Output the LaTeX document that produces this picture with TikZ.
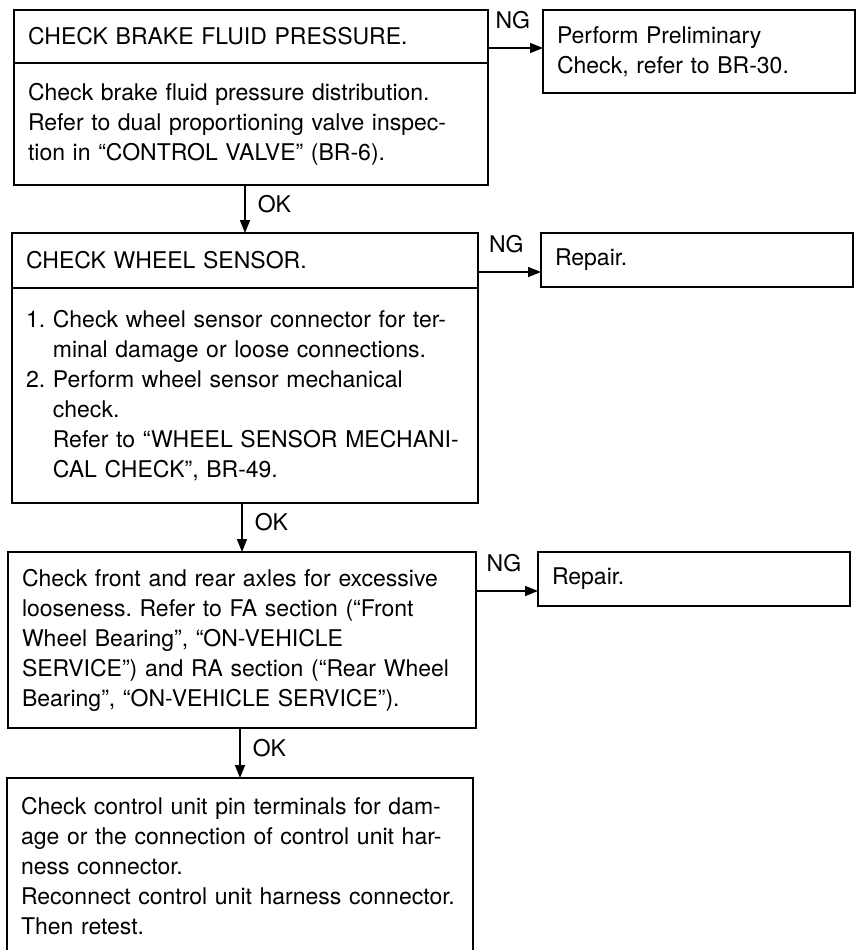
\documentclass[tikz,border=0pt]{standalone}
\usepackage{fontspec}
\setmainfont{TeX Gyre Heros}
\usetikzlibrary{positioning, arrows.meta}
\frenchspacing

\newcommand{\numpad}{\phantom{1.~}}

\begin{document}
\begin{tikzpicture}[
    x=1pt, y=-1pt,
    box/.style={rectangle, draw, line width=1.8pt, anchor=north west, align=left, inner xsep=14pt, inner ysep=0pt, outer sep=0pt, font=\fontsize{23}{30}\selectfont},
    arrow/.style={-{Triangle[length=13pt, width=10pt]}, line width=1.6pt},
    nglbl/.style={above=14pt, inner sep=4pt, pos=0.45, font=\fontsize{23}{30}\selectfont},
    oklbl/.style={right=8pt, inner sep=4pt, pos=0.4, font=\fontsize{23}{30}\selectfont}
]
\clip (0,0) rectangle (858,950);

% Step 1
\node[box, text width=446pt, minimum height=53pt] (hdrA) at (14,10) {CHECK BRAKE FLUID PRESSURE.};
\node[box, text width=446pt, minimum height=122pt, below=0pt of hdrA] (bodyA) {Check brake fluid pressure distribution.\\Refer to dual proportioning valve inspec-\\tion in “CONTROL VALVE” (BR-6).};
\node[box, text width=284pt, minimum height=83pt] (ngA) at (543,10) {Perform Preliminary\\Check, refer to BR-30.};

% Step 2
\node[box, text width=438pt, minimum height=55pt] (hdrB) at (12,233) {CHECK WHEEL SENSOR.};
\node[box, text width=438pt, minimum height=215pt, below=0pt of hdrB] (bodyB) {1.~Check wheel sensor connector for ter-\\\numpad minal damage or loose connections.\\2.~Perform wheel sensor mechanical\\\numpad check.\\\numpad Refer to “WHEEL SENSOR MECHANI-\\\numpad CAL CHECK”, BR-49.};
\node[box, text width=284pt, minimum height=54pt] (ngB) at (541,233) {Repair.};

% Step 3
\node[box, text width=440pt, minimum height=176pt] (bodyC) at (8,552) {Check front and rear axles for excessive\\looseness. Refer to FA section (“Front\\Wheel Bearing”, “ON-VEHICLE\\SERVICE”) and RA section (“Rear Wheel\\Bearing”, “ON-VEHICLE SERVICE”).};
\node[box, text width=284pt, minimum height=54pt] (ngC) at (538,552) {Repair.};

% Step 4
\node[box, text width=438pt, minimum height=176pt] (bodyD) at (7,778) {Check control unit pin terminals for dam-\\age or the connection of control unit har-\\ness connector.\\Reconnect control unit harness connector.\\Then retest.};

% NG arrows
\draw[arrow] ([yshift=-11.5pt]hdrA.east) -- node[nglbl] {NG} ([yshift=-11.5pt]hdrA.east -| ngA.west);
\draw[arrow] ([yshift=-11.5pt]hdrB.east) -- node[nglbl] {NG} ([yshift=-11.5pt]hdrB.east -| ngB.west);
\draw[arrow] ([yshift=-12pt]ngC.west -| bodyC.east) -- node[nglbl] {NG} ([yshift=-12pt]ngC.west);

% OK arrows
\draw[arrow] (bodyA.south -| hdrB.north) -- node[oklbl] {OK} (hdrB.north);
\draw[arrow] (bodyB.south -| bodyC.north) -- node[oklbl] {OK} (bodyC.north);
\draw[arrow] (bodyC.south -| bodyD.north) -- node[oklbl] {OK} (bodyD.north);

\end{tikzpicture}
\end{document}
